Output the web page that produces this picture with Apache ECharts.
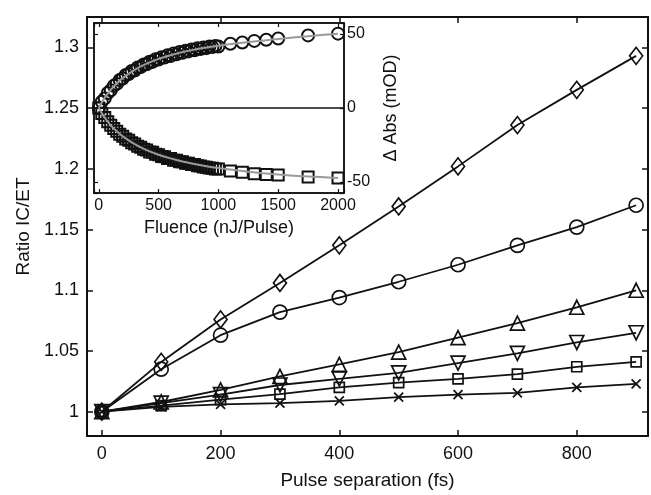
<!DOCTYPE html>
<html>
<head>
<meta charset="utf-8">
<script src="https://cdn.jsdelivr.net/npm/echarts@6/dist/echarts.min.js"></script>
<style>
  html, body { margin: 0; padding: 0; background: #fff; }
  #chart { width: 651px; height: 495px; }
</style>
</head>
<body>
<div id="chart"></div>
<script>
// main plot data
var pulseSep = [0, 100, 200, 300, 400, 500, 600, 700, 800, 900];
var ratioDiamond = [1, 1.041, 1.076, 1.106, 1.137, 1.169, 1.202, 1.236, 1.265, 1.293];
var ratioCircle = [1, 1.035, 1.063, 1.082, 1.094, 1.107, 1.121, 1.137, 1.152, 1.170];
var ratioTriUp = [1, 1.008, 1.018, 1.029, 1.039, 1.049, 1.061, 1.073, 1.086, 1.100];
var ratioTriDown = [1, 1.007, 1.014, 1.022, 1.027, 1.032, 1.040, 1.048, 1.057, 1.065];
var ratioSquare = [1, 1.005, 1.010, 1.0145, 1.020, 1.024, 1.027, 1.031, 1.037, 1.041];
var ratioCross = [1, 1.004, 1.006, 1.007, 1.009, 1.012, 1.014, 1.0155, 1.020, 1.023];
var ratioTicks = [1, 1.05, 1.1, 1.15, 1.2, 1.25, 1.3];
var sepTicks = [0, 200, 400, 600, 800];

// inset data
var fluence = [0, 25, 50, 75, 100, 125, 150, 175, 200, 225, 250, 275, 300, 325, 350, 375,
  400, 425, 450, 475, 500, 525, 550, 575, 600, 625, 650, 675, 700, 725, 750, 775,
  800, 825, 850, 875, 900, 925, 950, 975, 1000, 1100, 1200, 1300, 1400, 1500, 1750, 2000];
var absUp = [0, 4.2, 6.5, 10.1, 12.0, 15.0, 16.3, 18.9, 20.0, 22.3, 23.0, 25.1, 25.4, 27.4, 27.7, 29.5,
  29.6, 31.3, 31.2, 33.0, 32.8, 34.4, 34.1, 35.7, 35.2, 36.8, 36.3, 37.9, 37.3, 38.7, 38.3, 39.6,
  39.1, 40.4, 39.9, 41.0, 40.5, 41.6, 41.2, 42.0, 41.6, 43.5, 44.3, 45.4, 46.2, 47.0, 49.1, 50.3];
var absDown = [0, -3.8, -6.4, -9.3, -11.6, -13.9, -15.7, -17.7, -19.1, -20.9, -21.8, -23.5, -24.3, -25.8, -26.5, -27.9,
  -28.4, -29.7, -30.0, -31.3, -31.6, -32.8, -32.9, -34.1, -34.2, -35.3, -35.3, -36.3, -36.4, -37.3, -37.4, -38.3,
  -38.3, -39.1, -39.2, -39.9, -40.0, -40.6, -40.7, -41.2, -41.3, -42.7, -43.5, -44.4, -45.0, -45.4, -46.6, -47.3];
var fitFluence = [0, 25, 50, 100, 150, 200, 300, 400, 500, 600, 700, 800, 900, 1000, 1250, 1500, 1750, 2000];
var fitUp = [0, 3.8, 7.0, 12.3, 16.6, 20.2, 25.8, 30.0, 33.2, 35.7, 37.8, 39.5, 40.9, 42.1, 44.6, 46.6, 48.6, 50.3];
var fitDown = [0, -3.6, -6.6, -11.7, -15.8, -19.2, -24.4, -28.5, -31.6, -34.1, -36.2, -37.9, -39.4, -40.6, -43.1, -45.0, -46.4, -47.3];
var fluenceTicks = [0, 500, 1000, 1500, 2000];
var absTicks = [-50, 0, 50];

var FONT = "Liberation Sans";
var INK = "#111";

function pairs(xs, ys) {
  return xs.map(function (x, i) { return [x, ys[i]]; });
}
// only print the listed tick values
function pick(list) {
  return function (v) {
    for (var i = 0; i < list.length; i++) {
      if (Math.abs(v - list[i]) < 1e-6) return String(list[i]);
    }
    return "";
  };
}

var crossPath = "path://M0,0L10,10M10,0L0,10";

function mainSeries(ys, symbol, size, rotate) {
  return {
    type: "line",
    xAxisIndex: 0,
    yAxisIndex: 0,
    data: pairs(pulseSep, ys),
    symbol: symbol,
    symbolSize: size,
    symbolRotate: rotate || 0,
    showAllSymbol: true,
    lineStyle: { color: INK, width: 1.8 },
    itemStyle: { color: "rgba(0,0,0,0)", borderColor: INK, borderWidth: 1.7 },
    z: 3,
  };
}

var boxAxis = { onZero: false, lineStyle: { color: INK, width: 2 } };
var insetAxis = { onZero: false, lineStyle: { color: INK, width: 1.5 } };
var tickIn = { inside: true, length: 6, lineStyle: { color: INK, width: 1.5 } };
var tickInSmall = { inside: true, length: 4, lineStyle: { color: INK, width: 1.2 } };

var chart = echarts.init(document.getElementById("chart"));
var option = {
  backgroundColor: "#fff",
  animation: false,
  grid: [
    { left: 87, right: 3, top: 17, bottom: 55, show: false },
    { left: 94, top: 23, width: 250, height: 170, show: true, backgroundColor: "#fff", borderColor: INK, borderWidth: 1.5, z: 5 },
  ],
  xAxis: [
    {
      gridIndex: 0, type: "value", min: -25, max: 920, splitNumber: 5,
      axisLine: boxAxis, axisTick: tickIn, splitLine: { show: false },
      axisLabel: { formatter: pick(sepTicks), fontFamily: FONT, fontSize: 18, color: INK, margin: 9 },
      name: "Pulse separation (fs)", nameLocation: "middle", nameGap: 35,
      nameTextStyle: { fontFamily: FONT, fontSize: 19, color: INK },
    },
    {
      gridIndex: 0, type: "value", position: "top", min: -25, max: 920, splitNumber: 5,
      axisLine: boxAxis, axisTick: tickIn, axisLabel: { show: false }, splitLine: { show: false },
    },
    {
      gridIndex: 1, type: "value", min: -40, max: 2050, splitNumber: 4,
      axisLine: insetAxis, axisTick: tickInSmall, splitLine: { show: false },
      axisLabel: { formatter: pick(fluenceTicks), fontFamily: FONT, fontSize: 16, color: INK, margin: 5 },
      name: "Fluence (nJ/Pulse)", nameLocation: "middle", nameGap: 26,
      nameTextStyle: { fontFamily: FONT, fontSize: 18, color: INK },
      z: 6,
    },
    {
      gridIndex: 1, type: "value", position: "top", min: -40, max: 2050, splitNumber: 4,
      axisLine: insetAxis, axisTick: tickInSmall,
      axisLabel: { show: false }, splitLine: { show: false }, z: 6,
    },
  ],
  yAxis: [
    {
      gridIndex: 0, type: "value", min: 0.98, max: 1.325, splitNumber: 7,
      axisLine: boxAxis, axisTick: tickIn, splitLine: { show: false },
      axisLabel: { formatter: pick(ratioTicks), fontFamily: FONT, fontSize: 18, color: INK, margin: 8 },
      name: "Ratio IC/ET", nameLocation: "middle", nameGap: 52,
      nameTextStyle: { fontFamily: FONT, fontSize: 19, color: INK },
    },
    {
      gridIndex: 0, type: "value", position: "right", min: 0.98, max: 1.325, splitNumber: 7,
      axisLine: boxAxis, axisTick: tickIn, axisLabel: { show: false }, splitLine: { show: false },
    },
    {
      gridIndex: 1, type: "value", position: "right", min: -57.5, max: 57.5, splitNumber: 2,
      axisLine: insetAxis, axisTick: tickInSmall, splitLine: { show: false },
      axisLabel: { formatter: pick(absTicks), fontFamily: FONT, fontSize: 16, color: INK, margin: 3 },
      name: "\u0394 Abs (mOD)", nameLocation: "middle", nameGap: 38, nameRotate: 90,
      nameTextStyle: { fontFamily: FONT, fontSize: 18, color: INK },
      z: 6,
    },
    {
      gridIndex: 1, type: "value", position: "left", min: -57.5, max: 57.5, splitNumber: 2,
      axisLine: insetAxis, axisTick: tickInSmall,
      axisLabel: { show: false }, splitLine: { show: false }, z: 6,
    },
  ],
  series: [
    mainSeries(ratioCross, crossPath, 9),
    mainSeries(ratioSquare, "rect", 10),
    mainSeries(ratioTriDown, "triangle", 14, 180),
    mainSeries(ratioTriUp, "triangle", 14),
    mainSeries(ratioCircle, "circle", 14),
    mainSeries(ratioDiamond, "diamond", [13, 17]),
    // inset markers
    {
      type: "scatter", xAxisIndex: 2, yAxisIndex: 2,
      data: pairs(fluence, absUp), symbol: "circle", symbolSize: 12,
      itemStyle: { color: "rgba(0,0,0,0)", borderColor: INK, borderWidth: 2, opacity: 1 },
      z: 7,
      markLine: {
        silent: true, symbol: "none", label: { show: false },
        lineStyle: { color: INK, width: 1.5, type: "solid" },
        data: [{ yAxis: 0 }],
      },
    },
    {
      type: "scatter", xAxisIndex: 2, yAxisIndex: 2,
      data: pairs(fluence, absDown), symbol: "rect", symbolSize: 11,
      itemStyle: { color: "rgba(0,0,0,0)", borderColor: INK, borderWidth: 2, opacity: 1 },
      z: 7,
    },
    // inset fits
    {
      type: "line", xAxisIndex: 2, yAxisIndex: 2, data: pairs(fitFluence, fitUp),
      smooth: 0.3, symbol: "none", lineStyle: { color: "#9a9a9a", width: 2 }, z: 8,
    },
    {
      type: "line", xAxisIndex: 2, yAxisIndex: 2, data: pairs(fitFluence, fitDown),
      smooth: 0.3, symbol: "none", lineStyle: { color: "#9a9a9a", width: 2 }, z: 8,
    },
  ],
};
chart.setOption(option);
</script>
</body>
</html>
